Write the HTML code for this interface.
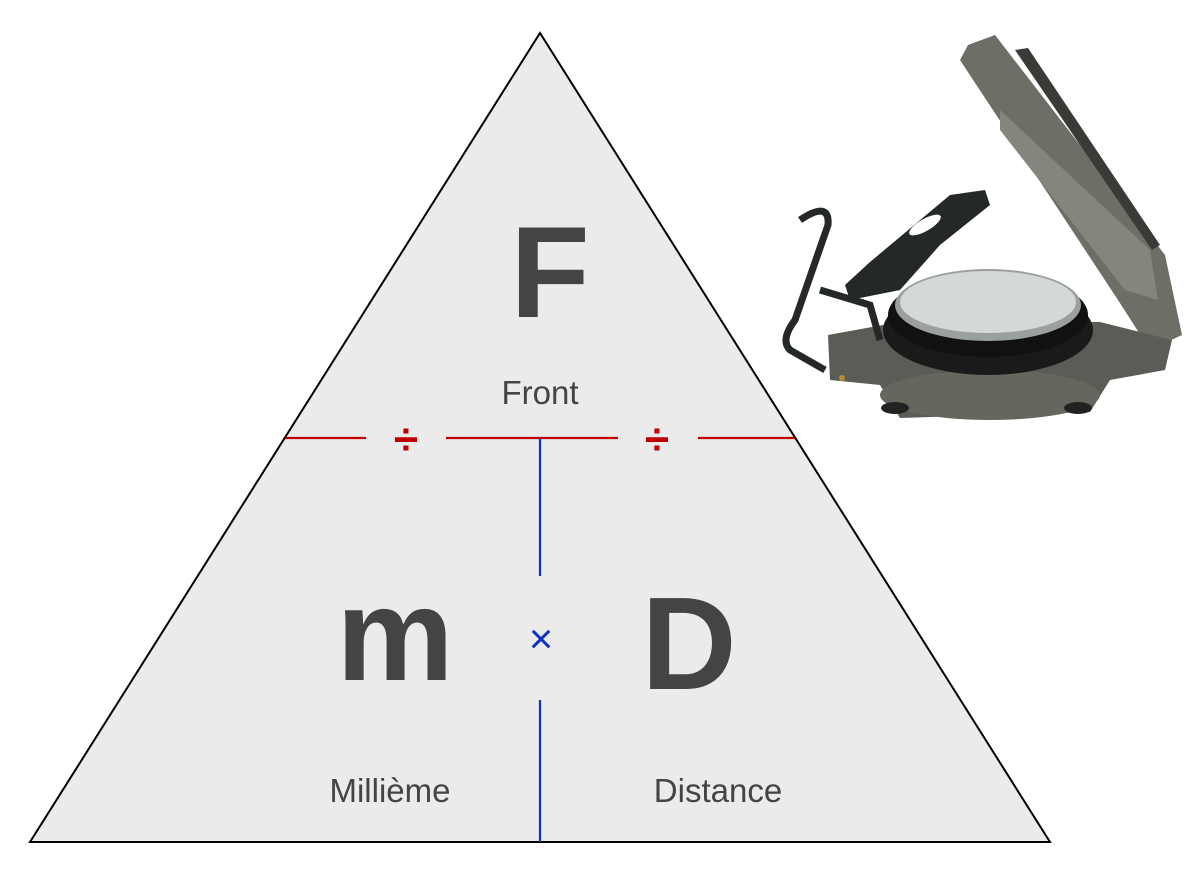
<!DOCTYPE html>
<html><head><style>
html,body{margin:0;padding:0;background:#fff;}
svg{display:block}
</style></head><body>
<svg width="1200" height="876" viewBox="0 0 1200 876" xmlns="http://www.w3.org/2000/svg">
<polygon points="540,33 30,842 1050,842" fill="#ebebeb" stroke="#000" stroke-width="2"/>
<g stroke="#c00000" stroke-width="2.2">
<line x1="285" y1="438" x2="366" y2="438"/>
<line x1="446" y1="438" x2="618" y2="438"/>
<line x1="698" y1="438" x2="795" y2="438"/>
</g>
<g stroke="#1030c0" stroke-width="2.2">
<line x1="540" y1="438" x2="540" y2="576"/>
<line x1="540" y1="700" x2="540" y2="842"/>
</g>
<g font-family="Liberation Sans, sans-serif" fill="#444" text-anchor="middle">
<text x="550" y="317" font-size="130" font-weight="bold">F</text>
<text x="540" y="404" font-size="33">Front</text>
<text x="395" y="680" font-size="132" font-weight="bold">m</text>
<text x="689" y="689" font-size="132" font-weight="bold">D</text>
<text x="390" y="802" font-size="33">Millième</text>
<text x="718" y="802" font-size="33">Distance</text>
</g>
<text x="406" y="454" font-family="Liberation Sans, sans-serif" font-size="44" font-weight="bold" fill="#c00000" text-anchor="middle">÷</text>
<text x="657" y="454" font-family="Liberation Sans, sans-serif" font-size="44" font-weight="bold" fill="#c00000" text-anchor="middle">÷</text>
<text x="541" y="653" font-family="Liberation Sans, sans-serif" font-size="42" fill="#1030c0" text-anchor="middle">×</text>
<!-- compass -->
<g>
<polygon points="968,45 995,35 1165,255 1182,335 1150,350 1118,300 960,60" fill="#6d6e66"/>
<polygon points="1015,50 1028,48 1160,245 1152,250" fill="#3a3b36"/>
<polygon points="1000,110 1150,250 1158,300 1125,290 1000,130" fill="#84857c"/>
<polygon points="828,335 900,322 1100,322 1172,340 1165,370 1110,380 1090,412 900,418 880,385 830,380" fill="#5b5c55"/>
<ellipse cx="990" cy="395" rx="110" ry="25" fill="#65665e"/>
<ellipse cx="895" cy="408" rx="14" ry="6" fill="#222"/>
<ellipse cx="1078" cy="408" rx="14" ry="6" fill="#222"/>
<ellipse cx="988" cy="330" rx="105" ry="45" fill="#1a1a1a"/>
<ellipse cx="988" cy="315" rx="100" ry="42" fill="#111"/>
<ellipse cx="988" cy="305" rx="93" ry="36" fill="#9aa0a0"/>
<ellipse cx="988" cy="302" rx="88" ry="31" fill="#d4d8d8"/>
<polygon points="870,262 950,195 985,190 990,205 940,245 900,290 850,300 845,285" fill="#242826"/>
<ellipse cx="925" cy="225" rx="18" ry="6" fill="#fff" transform="rotate(-30 925 225)"/>
<path d="M800,220 Q830,200 828,225 L795,320 Q780,340 790,350 L825,370" fill="none" stroke="#242826" stroke-width="7"/>
<path d="M820,290 L870,305 L880,340" fill="none" stroke="#242826" stroke-width="7"/>
<circle cx="842" cy="378" r="3" fill="#b58a3a"/>
</g>
</svg>
</body></html>
